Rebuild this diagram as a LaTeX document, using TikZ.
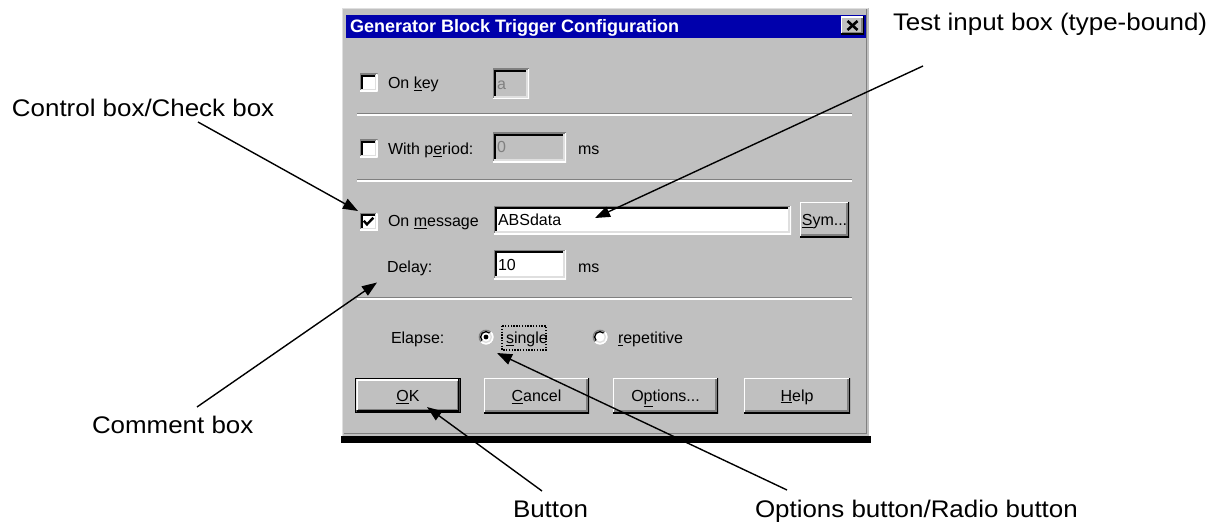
\documentclass[tikz,border=0pt]{standalone}
\usepackage{fontspec}
\setmainfont{Liberation Sans}
\newfontfamily\lblfont[FakeStretch=1.08]{Liberation Sans}
\usetikzlibrary{arrows.meta}
\definecolor{wgray}{RGB}{192,192,192}
\definecolor{dgray}{RGB}{128,128,128}
\definecolor{lgray}{RGB}{223,223,223}
\definecolor{tblue}{RGB}{0,0,172}

\begin{document}
\begin{tikzpicture}[x=1pt,y=-1pt,
  every node/.style={inner sep=0pt, outer sep=0pt},
  ui/.style={font=\fontsize{16}{19}\selectfont, anchor=base west},
  uidim/.style={ui, text=dgray},
  lbl/.style={font=\lblfont\fontsize{24}{28}\selectfont, anchor=base west},
  arr/.style={-{Triangle[length=15pt,width=11pt]}, line width=1.4pt, black},
  raised/.style={fill=wgray, anchor=north west, font=\fontsize{16}{19}\selectfont,
    text height=11.5pt, text depth=0pt,
    path picture={
      \draw[white,line width=2.8pt] (path picture bounding box.south west) -- (path picture bounding box.north west) -- (path picture bounding box.north east);
      \draw[black,line width=2.8pt] (path picture bounding box.south west) -- (path picture bounding box.south east) -- (path picture bounding box.north east);
      \draw[dgray,line width=1.4pt] ([shift={(1.4,-2.1)}]path picture bounding box.south west) -- ([shift={(-2.1,-2.1)}]path picture bounding box.south east) -- ([shift={(-2.1,1.4)}]path picture bounding box.north east);
    }},
  sunken/.style={anchor=north west,
    path picture={
      \draw[dgray,line width=2.8pt] (path picture bounding box.south west) -- (path picture bounding box.north west) -- (path picture bounding box.north east);
      \draw[white,line width=2.8pt] (path picture bounding box.south west) -- (path picture bounding box.south east) -- (path picture bounding box.north east);
      \draw[black,line width=1.4pt] ([shift={(2.1,-1.4)}]path picture bounding box.south west) -- ([shift={(2.1,2.1)}]path picture bounding box.north west) -- ([shift={(-1.4,2.1)}]path picture bounding box.north east);
      \draw[lgray,line width=1.4pt] ([shift={(1.4,-2.1)}]path picture bounding box.south west) -- ([shift={(-2.1,-2.1)}]path picture bounding box.south east) -- ([shift={(-2.1,1.4)}]path picture bounding box.north east);
    }},
  radio/.style={circle, fill=white, minimum size=15},
  checkbox/.style={sunken, fill=white, minimum size=17.5}
]
\fill[white] (0,0) rectangle (1218,524);
\useasboundingbox (0,0) rectangle (1218,524);

% window frame
\node[fill=wgray, anchor=north west, minimum width=527, minimum height=429] (dlg) at (342,8) {};
\fill[black] (341,436) rectangle (871,443);
\draw[lgray, line width=1.4pt] (342.7,436) -- (342.7,8.7) -- (868,8.7);
\draw[dgray, line width=1.4pt] (343.5,433.5) -- (866.5,433.5) -- (866.5,9.5);

% title bar
\node[fill=tblue, anchor=north west, minimum width=520, minimum height=23] (title) at (346,15) {};
\node[font=\bfseries\fontsize{18}{21}\selectfont, text=white, anchor=base west] (ttl) at (350,32.5) {Generator Block Trigger Configuration};
\node[raised, minimum width=23, minimum height=18] (cls) at (841,16.5) {};
\draw[black, line width=2.6pt] ([shift={(-5,-4.5)}]cls.center) -- ([shift={(5,4.5)}]cls.center)
  ([shift={(5,-4.5)}]cls.center) -- ([shift={(-5,4.5)}]cls.center);

% etched separators
\foreach \yy in {113.5,179.5,297.5}{
  \draw[dgray,line width=1.4pt] (357,\yy) -- (852,\yy);
  \draw[white,line width=1.4pt] (357,\yy+1.4) -- (852,\yy+1.4);
}

% row: on key
\node[checkbox] (chk1) at (360,74) {};
\node[ui] (tkey) at (388,88.5) {On \underline{k}ey};
\node[sunken, fill=wgray, minimum width=36, minimum height=30] (fkey) at (493,69) {};
\node[uidim] (vkey) at ([shift={(4,5.5)}]fkey.west) {a};

% row: with period
\node[checkbox] (chk2) at (360,140) {};
\node[ui] (tper) at (388,154.5) {With p\underline{e}riod:};
\node[sunken, fill=wgray, minimum width=73, minimum height=29] (fper) at (493,133) {};
\node[uidim] (vper) at ([shift={(4,5.5)}]fper.west) {0};
\node[ui] (msper) at (578,154.5) {ms};

% row: on message
\node[checkbox] (chk3) at (360,213) {};
\draw[black, line width=2.4pt] ([shift={(-5,-1)}]chk3.center) -- ([shift={(-1.8,2.6)}]chk3.center) -- ([shift={(4.6,-4)}]chk3.center);
\node[ui] (tmsg) at (388,226.5) {On \underline{m}essage};
\node[sunken, fill=white, minimum width=297, minimum height=28] (absf) at (494,206) {};
\node[ui] (vabs) at ([shift={(4,5.5)}]absf.west) {ABSdata};
\node[raised, minimum width=49, minimum height=35] (sym) at (800,202) {\underline{S}ym...};

% row: delay
\node[ui] (delay) at (387,272.5) {Delay:};
\node[sunken, fill=white, minimum width=72, minimum height=29] (fdel) at (494,250) {};
\node[ui] (vdel) at ([shift={(4,5.5)}]fdel.west) {10};
\node[ui] (msdel) at (578,272.5) {ms};

% row: elapse
\node[ui] (tel) at (391,343.5) {Elapse:};
\node[radio] (rad1) at (486,337) {};
\node[radio] (rad2) at (600,337) {};
\foreach \rn in {rad1,rad2}{
  \draw[dgray,line width=1.4pt] ([shift={(-45:6.8)}]\rn.center) arc[start angle=-45,end angle=-225,radius=6.8];
  \draw[white,line width=1.4pt] ([shift={(-45:6.8)}]\rn.center) arc[start angle=-45,end angle=135,radius=6.8];
  \draw[black,line width=1.4pt] ([shift={(-45:5.4)}]\rn.center) arc[start angle=-45,end angle=-225,radius=5.4];
  \draw[lgray,line width=1.4pt] ([shift={(-45:5.4)}]\rn.center) arc[start angle=-45,end angle=135,radius=5.4];
}
\fill[black] (rad1.center) circle[radius=2.4];
\node[ui] (tsgl) at (506,343.5) {\underline{s}ingle};
\draw[black, line width=1.2pt, dash pattern=on 1.4pt off 1.4pt] (502,326) rectangle (546,350);
\node[ui] (trep) at (618,343.5) {\underline{r}epetitive};

% buttons
\node[raised, minimum width=103.2, minimum height=32.2] (okb) at (356.4,379.4) {\underline{O}K};
\draw[black, line width=1.4pt] ([shift={(-0.7,0.7)}]okb.south west) rectangle ([shift={(0.7,-0.7)}]okb.north east);
\node[raised, minimum width=105, minimum height=35] (cnb) at (484,378) {\underline{C}ancel};
\node[raised, minimum width=105, minimum height=35] (opb) at (613,378) {O\underline{p}tions...};
\node[raised, minimum width=106, minimum height=35] (hlb) at (744,378) {\underline{H}elp};

% callout labels
\node[lbl] (lcheck) at (12,117) {Control box/Check box};
\node[lbl] (ltest) at (893,30.5) {Test input box (type-bound)};
\node[lbl] (lcomm) at (92,433) {Comment box};
\node[lbl] (lbtn) at (513,517) {Button};
\node[lbl] (lopt) at (755,517) {Options button/Radio button};

\coordinate (s1) at (198,122);
\coordinate (s2) at (923,66);
\coordinate (s3) at (197,407);
\coordinate (s4) at (542,491);
\coordinate (s5) at (787,490);

\draw[arr] (s1) -- ([shift={(-2,-2)}]chk3.north west);
\draw[arr] (s2) -- ([shift={(101,-2)}]absf.west);
\draw[arr] (s3) -- ([shift={(-10,10)}]delay.base west);
\draw[arr] (s4) -- ([shift={(19,11.5)}]okb.center);
\draw[arr] (s5) -- ([shift={(11,16)}]rad1.center);
\end{tikzpicture}
\end{document}
